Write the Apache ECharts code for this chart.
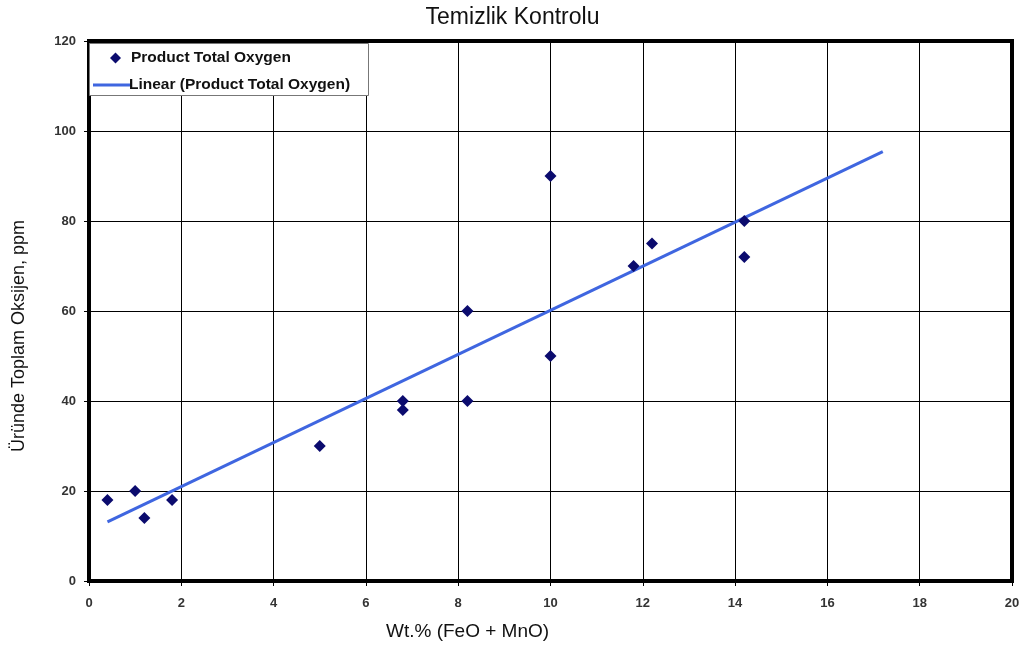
<!DOCTYPE html>
<html>
<head>
<meta charset="utf-8">
<script src="https://cdn.jsdelivr.net/npm/echarts@6/dist/echarts.min.js"></script>
<style>
  html, body { margin: 0; padding: 0; background: #fff; }
  #chart { width: 1025px; height: 650px; }
</style>
</head>
<body>
<div id="chart"></div>
<script>
// Measured samples: FeO + MnO content (wt.%) vs. total oxygen in product (ppm)
const feoMno = [0.4, 1.0, 1.2, 1.8, 5.0, 6.8, 6.8, 8.2, 8.2, 10.0, 10.0, 11.8, 12.2, 14.2, 14.2];
const oxygenPpm = [18, 20, 14, 18, 30, 40, 38, 60, 40, 90, 50, 70, 75, 80, 72];
const xTicks = [0, 2, 4, 6, 8, 10, 12, 14, 16, 18, 20];
const yTicks = [0, 20, 40, 60, 80, 100, 120];
const trendForward = 3; // trend line extended 3 units past the last sample

// Least-squares linear fit
function linearFit(xs, ys) {
  const n = xs.length;
  const mx = xs.reduce((a, b) => a + b, 0) / n;
  const my = ys.reduce((a, b) => a + b, 0) / n;
  let sxy = 0, sxx = 0;
  for (let i = 0; i < n; i++) {
    sxy += (xs[i] - mx) * (ys[i] - my);
    sxx += (xs[i] - mx) * (xs[i] - mx);
  }
  const slope = sxy / sxx;
  return { slope, intercept: my - slope * mx };
}
const fit = linearFit(feoMno, oxygenPpm);
const x0 = Math.min(...feoMno);
const x1 = Math.max(...feoMno) + trendForward;
const trendLine = [[x0, fit.intercept + fit.slope * x0], [x1, fit.intercept + fit.slope * x1]];

const points = feoMno.map((x, i) => [x, oxygenPpm[i]]);

const labelFont = 'Liberation Sans, Arial, sans-serif';
const chart = echarts.init(document.getElementById('chart'), null, { renderer: 'canvas' });
chart.setOption({
  animation: false,
  backgroundColor: '#fff',
  title: {
    text: 'Temizlik Kontrolu',
    left: 'center',
    top: 1,
    textStyle: { fontFamily: 'Liberation Sans Narrow, Arial Narrow, sans-serif', fontSize: 23, fontWeight: 'normal', color: '#111' }
  },
  grid: {
    left: 89, right: 13, top: 41, bottom: 69,
    show: true, borderColor: '#000', borderWidth: 4, backgroundColor: '#fff'
  },
  xAxis: {
    type: 'value', min: xTicks[0], max: xTicks[xTicks.length - 1], interval: 2,
    axisLine: { show: true, lineStyle: { color: '#000', width: 1 } },
    axisTick: { show: true, length: 5, lineStyle: { color: '#000' } },
    splitLine: { show: true, lineStyle: { color: '#000', width: 1 } },
    axisLabel: { fontFamily: labelFont, fontSize: 13, fontWeight: 'bold', color: '#333', margin: 16 }
  },
  yAxis: {
    type: 'value', min: yTicks[0], max: yTicks[yTicks.length - 1], interval: 20,
    axisLine: { show: true, lineStyle: { color: '#000', width: 1 } },
    axisTick: { show: true, length: 5, lineStyle: { color: '#000' } },
    splitLine: { show: true, lineStyle: { color: '#000', width: 1 } },
    axisLabel: { fontFamily: labelFont, fontSize: 13, fontWeight: 'bold', color: '#333', margin: 13 }
  },
  legend: [
    {
      data: ['Product Total Oxygen'],
      left: 105, top: 45, z: 50, icon: 'diamond', itemWidth: 11, itemHeight: 11, itemGap: 0,
      textStyle: { fontFamily: labelFont, fontSize: 15.5, fontWeight: 'bold', color: '#111', padding: [0, 0, 0, 5] }
    },
    {
      data: ['Linear (Product Total Oxygen)'],
      left: 88, top: 72, z: 50, itemWidth: 38, itemHeight: 3, itemGap: 0,
      icon: 'rect',
      textStyle: { fontFamily: labelFont, fontSize: 15.5, fontWeight: 'bold', color: '#111', padding: [0, 0, 0, -7] }
    }
  ],
  graphic: [
    {
      type: 'rect', left: 89, top: 43, z: 10,
      shape: { width: 279, height: 52 },
      style: { fill: '#fff', stroke: '#777', lineWidth: 1 }
    },
    {
      type: 'text', left: 386, top: 622,
      style: { text: 'Wt.% (FeO + MnO)', font: '19px Liberation Sans, Arial, sans-serif', fill: '#111' }
    },
    {
      type: 'text', x: 10, y: 452, rotation: Math.PI / 2,
      style: { text: 'Üründe Toplam Oksijen, ppm', font: '18px Liberation Sans, Arial, sans-serif', fill: '#111' }
    }
  ],
  series: [
    {
      name: 'Product Total Oxygen',
      type: 'scatter',
      symbol: 'diamond',
      symbolSize: 12,
      itemStyle: { color: '#0b0b6e', opacity: 1 },
      data: points,
      z: 5
    },
    {
      name: 'Linear (Product Total Oxygen)',
      type: 'line',
      data: trendLine,
      symbol: 'none',
      lineStyle: { color: '#3f66e0', width: 3 },
      itemStyle: { color: '#3f66e0' },
      z: 4
    }
  ]
});
</script>
</body>
</html>
